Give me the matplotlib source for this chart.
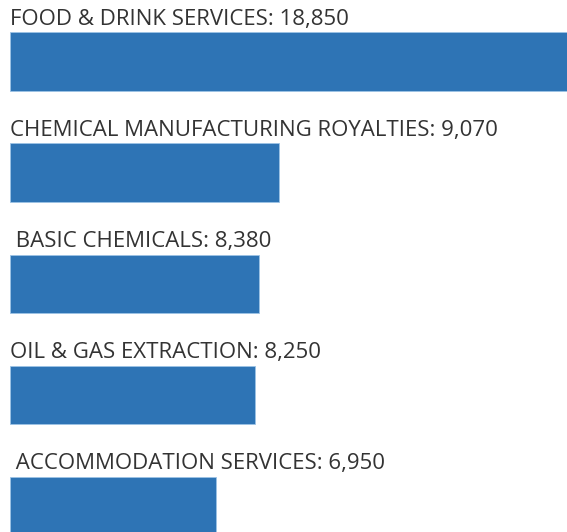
import matplotlib
matplotlib.use('Agg')
import matplotlib.pyplot as plt

categories = ['FOOD & DRINK SERVICES', 'CHEMICAL MANUFACTURING ROYALTIES',
              ' BASIC CHEMICALS', 'OIL & GAS EXTRACTION', ' ACCOMMODATION SERVICES']
values = [18850, 9070, 8380, 8250, 6950]

BAR_COLOR = '#2E74B5'
TEXT_COLOR = '#333333'
BAR_HEIGHT = 0.527

plt.rcParams['font.family'] = ['Open Sans', 'DejaVu Sans']

fig = plt.figure(figsize=(5.67, 5.32), dpi=100)
ax = fig.add_axes([9.5 / 567, 0, 1 - 9.5 / 567, 1])

pos = list(range(len(values)))
ax.barh(pos, values, height=BAR_HEIGHT, color=BAR_COLOR,
        edgecolor='#9DC3E6', linewidth=0.6)

for i, (cat, val) in enumerate(zip(categories, values)):
    ax.text(20, i - BAR_HEIGHT / 2 - 0.07, '%s: %s' % (cat, format(val, ',')),
            ha='left', va='baseline', fontsize=16, color=TEXT_COLOR)

ax.set_xlim(0, 18730)
ax.set_ylim(4.236, -0.556)
ax.axis('off')

fig.savefig('out.png', dpi=100)
